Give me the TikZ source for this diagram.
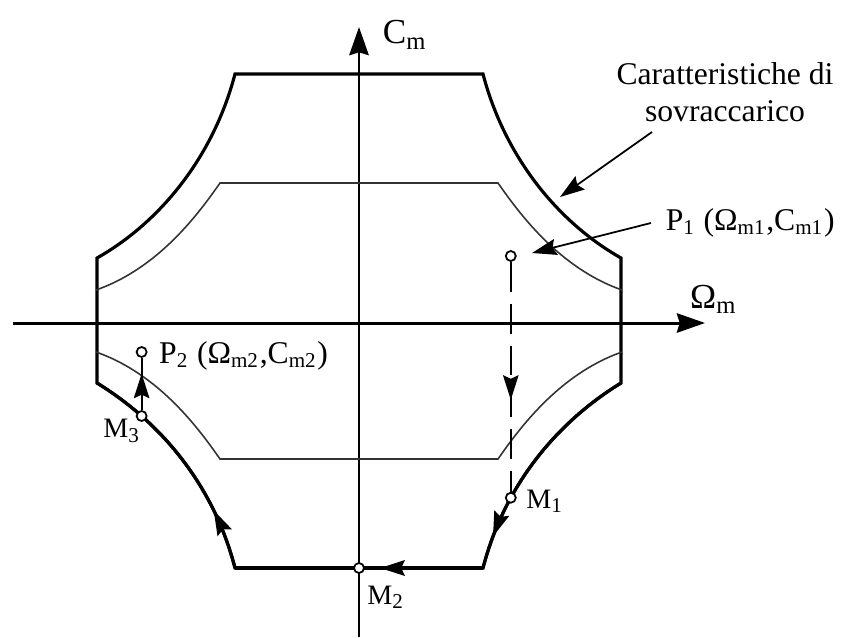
\documentclass[tikz,border=0pt]{standalone}
\usepackage{fontspec}
\setmainfont{Liberation Serif}
\usetikzlibrary{arrows.meta, positioning, calc, decorations.markings}

\begin{document}
\begin{tikzpicture}[
  x=0.1mm, y=0.1mm,
  axis/.style={line width=0.85pt, -{Stealth[length=8pt, width=5.5pt, inset=0.8pt]}},
  outer/.style={line width=0.9pt, line join=miter},
  inner/.style={line width=0.45pt, black!80},
  pointer/.style={line width=0.5pt, -{Stealth[length=7pt, width=4.6pt, inset=1pt]}},
  flow/.style={postaction={decorate}, decoration={markings, mark=at position #1 with {\arrow{Stealth[length=7pt, width=4.4pt, inset=1pt]}}}},
  dashline/.style={line width=0.6pt, dash pattern=on 8.5pt off 3.4pt},
  trajline/.style={line width=0.6pt},
  dot/.style={circle, draw, fill=white, line width=0.5pt, inner sep=0pt, minimum size=1mm},
  axlbl/.style={font=\fontsize{10}{12}\selectfont, inner sep=1pt},
  lbl/.style={font=\fontsize{9}{10.5}\selectfont, inner sep=1pt},
  mlbl/.style={font=\fontsize{8}{9}\selectfont, inner sep=1pt}
]
  \useasboundingbox (-359,-314) rectangle (484,323);

  % axes
  \coordinate (xl) at (-346,0);
  \coordinate (xr) at (346,0);
  \coordinate (yb) at (0,-314);
  \coordinate (yt) at (0,296);
  \draw[axis] (xl) -- (xr);
  \draw[axis] (yb) -- (yt);
  \node[axlbl, anchor=west] (wlbl) at (327,24) {Ω\textsubscript{m}};
  \node[axlbl] (clbl) at (46,288) {C\textsubscript{m}};

  % overload characteristic
  \draw[outer] (-124,249) -- (124,249) .. controls (146,165) and (200,100) .. (262,65)
    -- (262,-60) .. controls (200,-98) and (146,-160) .. (124,-245)
    -- (-124,-245) .. controls (-146,-160) and (-200,-98) .. (-262,-60)
    -- (-262,65) .. controls (-200,100) and (-146,165) .. (-124,249) -- cycle;
  \draw[outer, flow=0.86] (262,-60) .. controls (200,-98) and (146,-160) .. coordinate[pos=0.7] (M1) (124,-245);
  \draw[outer, flow=0.415] (124,-245) -- coordinate[pos=0.5] (M2) (-124,-245);
  \draw[outer, flow=0.26] (-124,-245) .. controls (-146,-160) and (-200,-98) .. coordinate[pos=0.75] (M3) (-262,-60);

  % continuous characteristic
  \draw[inner] (-263,33) .. controls (-200,55) and (-160,110) .. (-139,140)
    -- (139,140) .. controls (160,110) and (200,55) .. (263,33);
  \draw[inner] (-263,-29) .. controls (-200,-51) and (-160,-106) .. (-139,-136)
    -- (139,-136) .. controls (160,-106) and (200,-51) .. (263,-29);

  % operating points
  \coordinate (P1) at (M1 |- 0,67);
  \coordinate (P2) at (M3 |- 0,-29);
  \node[dot] (m1dot) at (M1) {};
  \node[dot] (m2dot) at (M2) {};
  \node[dot] (m3dot) at (M3) {};
  \node[dot] (p1dot) at (P1) {};
  \node[dot] (p2dot) at (P2) {};
  \draw[dashline, flow=0.6] (p1dot) -- (m1dot);
  \draw[trajline, flow=0.7] (m3dot) -- (p2dot);

  \node[lbl, anchor=west, inner xsep=4pt] (p1lbl) at (292,100) {P\textsubscript{1} (Ω\textsubscript{m1},C\textsubscript{m1})};
  \node[lbl, anchor=west] (p2lbl) at (-204,-33) {P\textsubscript{2} (Ω\textsubscript{m2},C\textsubscript{m2})};
  \node[mlbl] (m1lbl) at (186,-178) {M\textsubscript{1}};
  \node[mlbl] (m2lbl) at (27,-274) {M\textsubscript{2}};
  \node[mlbl] (m3lbl) at (-237,-108) {M\textsubscript{3}};
  \node[lbl, align=center] (ovl) at (366,231) {Caratteristiche di\\sovraccarico};

  \coordinate (ovlfrom) at (293,191);
  \coordinate (ovltip) at (201,126);
  \coordinate (p1tip) at (173,70);
  \draw[pointer] (ovlfrom) -- (ovltip);
  \draw[pointer] (p1lbl.west) -- (p1tip);
\end{tikzpicture}
\end{document}
